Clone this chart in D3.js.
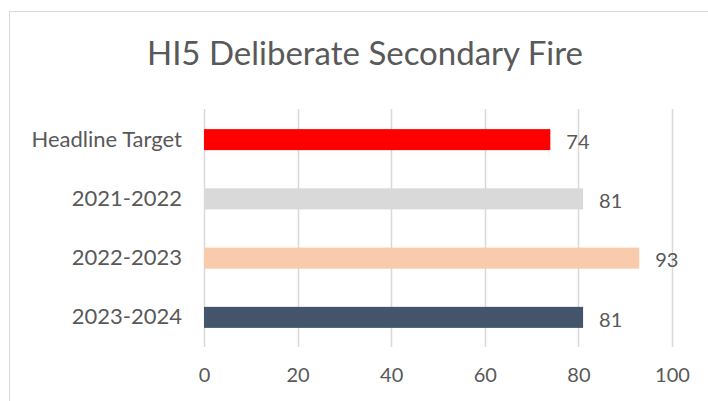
<!DOCTYPE html>
<html>
<head>
<meta charset="utf-8">
<script src="https://cdn.jsdelivr.net/npm/d3@7"></script>
<style>
    body { margin: 0; background: #fff; }
    text { font-family: Lato, 'Open Sans', sans-serif; fill: #595959; }
</style>
</head>
<body>
<div id="chart"></div>
<script>
// Chart data
const categories = ['Headline Target', '2021-2022', '2022-2023', '2023-2024'];
const values = [74, 81, 93, 81];
const barColors = ['#ff0000', '#d9d9d9', '#f8cbad', '#44546a'];
const xTicks = [0, 20, 40, 60, 80, 100];
const title = 'HI5 Deliberate Secondary Fire';

const width = 708,
    height = 401;

const svg = d3
    .select('#chart')
    .append('svg')
    .attr('width', width)
    .attr('height', height);

// chart area border (right and bottom edges fall outside the picture)
svg.append('rect')
    .attr('x', 9.5)
    .attr('y', 11.5)
    .attr('width', 740)
    .attr('height', 420)
    .attr('fill', '#fff')
    .attr('stroke', '#d9d9d9');

svg.append('text')
    .attr('x', 365)
    .attr('y', 65)
    .attr('text-anchor', 'middle')
    .style('font-size', '33px')
    .text(title);

const x = d3.scaleLinear().domain([0, 100]).range([204, 672]);
const y = d3.scaleBand().domain(categories).range([110, 347]).paddingInner(0.645).paddingOuter(0.3225);

// Vertical gridlines
svg.append('g')
    .selectAll('line')
    .data(xTicks)
    .enter()
    .append('line')
    .attr('x1', (d) => Math.round(x(d)) + 0.5)
    .attr('x2', (d) => Math.round(x(d)) + 0.5)
    .attr('y1', 109)
    .attr('y2', 347)
    .attr('stroke', '#d9d9d9')
    .attr('stroke-width', 1.5);

// Bars
svg.append('g')
    .selectAll('rect')
    .data(categories)
    .enter()
    .append('rect')
    .attr('x', x(0))
    .attr('y', (d) => y(d))
    .attr('width', (d, i) => x(values[i]) - x(0))
    .attr('height', y.bandwidth())
    .attr('fill', (d, i) => barColors[i]);

// Data labels
svg.append('g')
    .selectAll('text')
    .data(categories)
    .enter()
    .append('text')
    .attr('x', (d, i) => x(values[i]) + 16)
    .attr('y', (d) => y(d) + y.bandwidth() / 2 + 2)
    .attr('dy', '0.36em')
    .style('font-size', '20px')
    .text((d, i) => values[i]);

// Category axis
const yAxis = svg.append('g')
    .attr('transform', 'translate(182,0)')
    .call(d3.axisLeft(y).tickSize(0).tickPadding(0));
yAxis.select('.domain').remove();
yAxis.selectAll('text').style('font-size', '22px').attr('fill', '#595959');

// Value axis
const xAxis = svg.append('g')
    .attr('transform', 'translate(0,368)')
    .call(d3.axisBottom(x).tickValues(xTicks).tickSize(0).tickPadding(0));
xAxis.select('.domain').remove();
xAxis.selectAll('text').style('font-size', '20px').attr('fill', '#595959').attr('dy', '0.71em');
</script>
</body>
</html>
